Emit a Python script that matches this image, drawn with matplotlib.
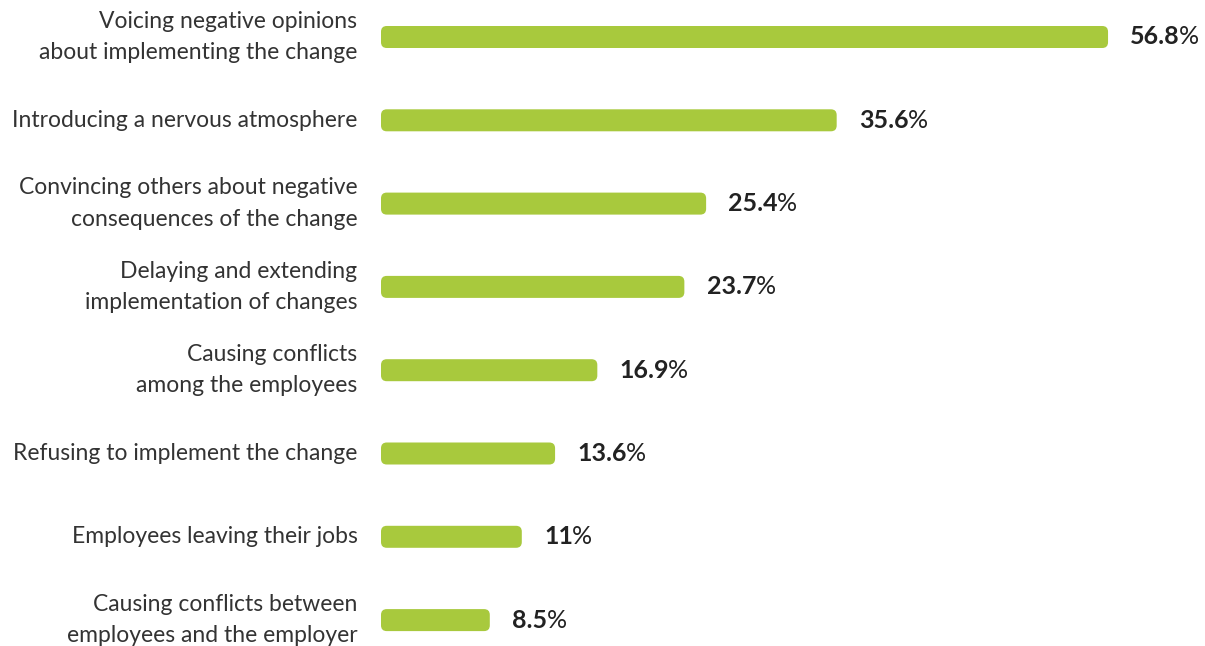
import matplotlib
matplotlib.use('Agg')
import matplotlib.pyplot as plt
from matplotlib.patches import FancyBboxPatch

labels = [
    "Voicing negative opinions\nabout implementing the change",
    "Introducing a nervous atmosphere",
    "Convincing others about negative\nconsequences of the change",
    "Delaying and extending\nimplementation of changes",
    "Causing conflicts\namong the employees",
    "Refusing to implement the change",
    "Employees leaving their jobs",
    "Causing conflicts between\nemployees and the employer",
]
values = [56.8, 35.6, 25.4, 23.7, 16.9, 13.6, 11, 8.5]
value_text = ["56.8", "35.6", "25.4", "23.7", "16.9", "13.6", "11", "8.5"]

bar_color = "#a8c93d"
text_color = "#333333"
plt.rcParams['font.family'] = ['Lato', 'DejaVu Sans']

W, H = 1205, 646
fig = plt.figure(figsize=(W / 100, H / 100), dpi=100)
x0 = 381
ax = fig.add_axes([x0 / W, 0, 1 - x0 / W, 1])

px_per_unit = 12.8     # horizontal pixels per percent
row_px = 83.3          # vertical pixels per row
ax.set_xlim(0, (W - x0) / px_per_unit)
ax.set_ylim((H - 37) / row_px, -37 / row_px)
ax.axis('off')

bar_h = 22 / row_px
aspect = px_per_unit / row_px
for i, v in enumerate(values):
    box = FancyBboxPatch((0, i - bar_h / 2), v, bar_h,
                         boxstyle="round,pad=0,rounding_size=0.45",
                         mutation_aspect=aspect,
                         facecolor=bar_color, edgecolor='none')
    ax.add_patch(box)

    # bold number followed by a regular percent sign
    t = ax.annotate(value_text[i], xy=(v, i), xytext=(16, 0),
                    textcoords='offset points', ha='left', va='center',
                    fontsize=18, fontweight='bold', color='#222222')
    ax.annotate("%", xy=(1, 0), xycoords=t, xytext=(-0.5, 0),
                textcoords='offset points', ha='left', va='bottom',
                fontsize=18, color='#222222')

    ax.annotate(labels[i], xy=(0, i), xytext=(-17, 0),
                textcoords='offset points', ha='right', va='center',
                fontsize=16.5, color=text_color, linespacing=1.6,
                multialignment='right')

fig.savefig("out.png", dpi=100)
